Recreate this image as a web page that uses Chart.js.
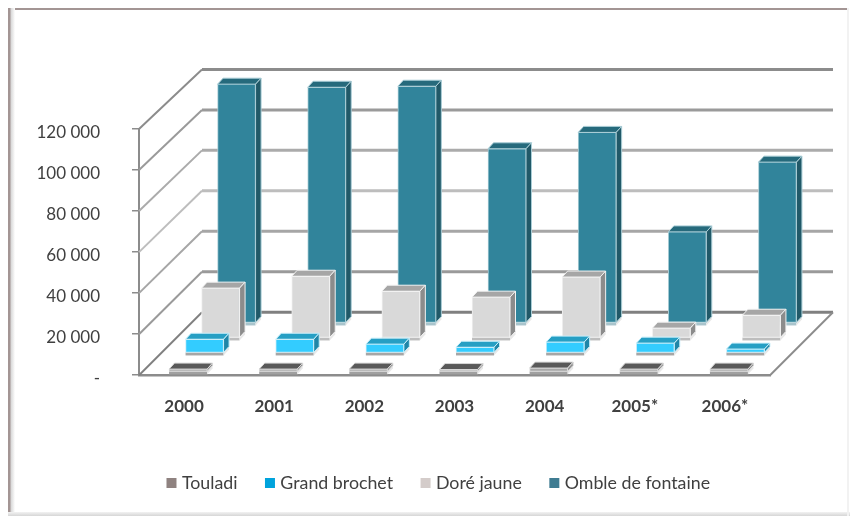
<!DOCTYPE html>
<html lang="fr">
<head>
<meta charset="utf-8">
<title>Touladi, Grand brochet, Doré jaune, Omble de fontaine</title>
<script src="https://cdn.jsdelivr.net/npm/chart.js@4"></script>
<style>
  html, body { margin: 0; padding: 0; background: #fff; }
  #frame { position: relative; width: 850px; height: 516px; overflow: hidden; background: #fff; }
  /* cadre du graphique */
  #frame .top { position: absolute; left: 8px; right: 2px; top: 8px; height: 2px; background: #a39594; }
  #frame .left { position: absolute; left: 8px; top: 8px; bottom: 4px; width: 7px;
    background: linear-gradient(to right, #a39594 0, #a39594 2px, #d8d8d8 3px, #f4f4f4 6px, #fff 7px); }
  #frame .bottom { position: absolute; left: 8px; right: 0; bottom: 0; height: 4px;
    background: linear-gradient(to bottom, #f2f2f2, #d6d6d6); }
  #frame .right { position: absolute; right: 1px; top: 8px; bottom: 0; width: 2px; background: #f2f2f2; }
  canvas { position: absolute; left: 0; top: 0; }
</style>
</head>
<body>
<div id="frame">
  <div class="top"></div><div class="left"></div><div class="bottom"></div><div class="right"></div>
  <canvas id="chart" width="850" height="516"></canvas>
</div>
<script>
const years = ['2000', '2001', '2002', '2003', '2004', '2005*', '2006*'];
const touladi = [1500, 1500, 1500, 1300, 2000, 1500, 1500];
const grandBrochet = [6800, 6800, 4400, 2900, 5400, 4900, 2000];
const doreJaune = [24400, 30200, 22900, 20000, 29800, 4900, 11200];
const ombleFontaine = [116500, 115000, 115500, 85000, 93000, 44500, 78500];

const seriesNames = ['Touladi', 'Grand brochet', 'Doré jaune', 'Omble de fontaine'];
const legendColors = ['#8f8280', '#00a3dc', '#d4ccca', '#3f7c92'];
const frontColors = ['#a8a8a8', '#33ccff', '#d9d9d9', '#31849b'];
const rimColors = ['#d8d8d8', '#c8eefa', '#f2f2f2', '#a9cdd6'];
const topColors = ['#595959', '#269fc4', '#a6a6a6', '#266a7c'];
const sideColors = ['#8c8c8c', '#1f86a8', '#8c8c8c', '#215968'];
const lipColors = ['#a0a0a0', '#a6a6a6', '#bdbdbd', '#a9c4cc'];

// decalage de chaque rangee (profondeur)
const rowDx = [4, 20.5, 36.5, 52.5];
const rowDy = [-3, -22, -37, -52];
const barDepthX = 5.5;
const barDepthY = -6;

// mur du fond
const backDx = 63;
const backDy = -63;
const backScale = 0.986;
const gridColors = ['#808080', '#9a9a9a', '#a6a6a6', '#bdbdbd', '#ababab', '#9a9a9a', '#8c8c8c'];

function fmt(v) {
  if (v === 0) return '-';
  return String(v).replace(/\B(?=(\d{3})+$)/g, ' ');
}

const walls3d = {
  id: 'walls3d',
  beforeDatasetsDraw(chart) {
    const ctx = chart.ctx, area = chart.chartArea, y = chart.scales.y;
    ctx.save();
    y.ticks.forEach((t, i) => {
      const py = y.getPixelForValue(t.value);
      const by = area.bottom + backDy + (py - area.bottom) * backScale;
      ctx.strokeStyle = gridColors[i];
      ctx.lineWidth = 3;
      ctx.beginPath();
      ctx.moveTo(area.left + backDx, by);
      ctx.lineTo(area.right + backDx, by);
      ctx.stroke();
      ctx.lineWidth = 2;
      ctx.beginPath();
      ctx.moveTo(area.left, py);
      ctx.lineTo(area.left + backDx, by);
      ctx.stroke();
    });
    // bord droit du plancher
    ctx.strokeStyle = '#8c8c8c';
    ctx.lineWidth = 2;
    ctx.beginPath();
    ctx.moveTo(area.right, area.bottom);
    ctx.lineTo(area.right + backDx, area.bottom + backDy);
    ctx.stroke();
    ctx.restore();
  },
  // faces du dessus et de cote, dessinees avant la face avant de chaque barre
  beforeDatasetDraw(chart, args) {
    const ctx = chart.ctx, i = args.index;
    ctx.save();
    ctx.translate(rowDx[i], rowDy[i]);
    ctx.strokeStyle = rimColors[i];
    ctx.lineWidth = 1;
    args.meta.data.forEach(bar => {
      const l = bar.x - bar.width / 2, r = bar.x + bar.width / 2;
      const t = bar.y, b = bar.base;
      // rebord sous la barre
      ctx.fillStyle = lipColors[i];
      ctx.fillRect(l, b, r - l, 3);
      ctx.fillStyle = '#e8e8e8';
      ctx.beginPath();
      ctx.moveTo(r, b + 3);
      ctx.lineTo(r + barDepthX, b + barDepthY + 3);
      ctx.lineTo(r + barDepthX, b + barDepthY);
      ctx.lineTo(r, b);
      ctx.closePath();
      ctx.fill();
      ctx.fillStyle = topColors[i];
      ctx.beginPath();
      ctx.moveTo(l, t);
      ctx.lineTo(l + barDepthX, t + barDepthY);
      ctx.lineTo(r + barDepthX, t + barDepthY);
      ctx.lineTo(r, t);
      ctx.closePath();
      ctx.fill();
      ctx.stroke();
      ctx.fillStyle = sideColors[i];
      ctx.beginPath();
      ctx.moveTo(r, t);
      ctx.lineTo(r + barDepthX, t + barDepthY);
      ctx.lineTo(r + barDepthX, b + barDepthY);
      ctx.lineTo(r, b);
      ctx.closePath();
      ctx.fill();
      ctx.stroke();
    });
  },
  afterDatasetDraw(chart) {
    chart.ctx.restore();
  },
  // la legende est centree sur tout le graphique, pas sur la zone des barres
  afterLayout(chart) {
    chart.legend.left += 55;
    chart.legend.right += 55;
  }
};

const allSeries = [touladi, grandBrochet, doreJaune, ombleFontaine];

new Chart(document.getElementById('chart'), {
  type: 'bar',
  data: {
    labels: years,
    datasets: allSeries.map((values, i) => ({
      label: seriesNames[i],
      data: values,
      backgroundColor: frontColors[i],
      borderColor: rimColors[i],
      borderWidth: 1,
      borderSkipped: false,
      barThickness: 38,
      grouped: false,
      clip: false
    }))
  },
  options: {
    responsive: false,
    animation: false,
    events: [],
    layout: { padding: { top: 129, right: 80, left: 0, bottom: 14 } },
    plugins: {
      tooltip: { enabled: false },
      legend: {
        position: 'bottom',
        labels: {
          usePointStyle: true,
          boxWidth: 3,
          boxHeight: 10,
          padding: 31,
          color: '#404040',
          font: { family: 'Lato', size: 17.8 },
          generateLabels: () => seriesNames.map((name, i) => ({
            text: name,
            fillStyle: legendColors[i],
            strokeStyle: legendColors[i],
            lineWidth: 0,
            pointStyle: 'rect',
            fontColor: '#404040',
            datasetIndex: i
          }))
        }
      }
    },
    scales: {
      x: {
        grid: { display: false },
        border: { color: '#8c8c8c', width: 2.5 },
        afterFit(s) { s.height = 68; },
        ticks: {
          padding: 13,
          color: '#404040',
          maxRotation: 0,
          font: { family: 'Lato', size: 17, weight: 'bold' }
        }
      },
      y: {
        min: 0,
        max: 120000,
        afterFit(s) { s.width = 139; },
        grid: { drawOnChartArea: false, color: '#8c8c8c', tickLength: 7, lineWidth: 1.5 },
        border: { color: '#8c8c8c', width: 2 },
        ticks: {
          stepSize: 20000,
          padding: 32,
          labelOffset: 3.5,
          color: '#404040',
          font: { family: 'Lato', size: 17 },
          callback: fmt
        }
      }
    }
  },
  plugins: [walls3d]
});
</script>
</body>
</html>
